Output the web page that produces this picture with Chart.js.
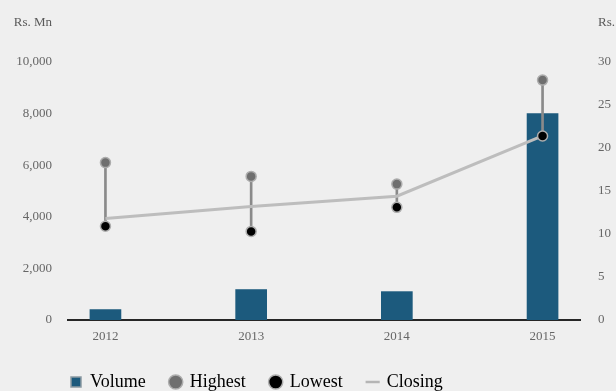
<!DOCTYPE html>
<html>
<head>
<meta charset="utf-8">
<script src="https://cdn.jsdelivr.net/npm/chart.js@4.4.1/dist/chart.umd.min.js"></script>
<style>
  html, body { margin: 0; padding: 0; background: #efefef; }
  #wrap { width: 616px; height: 391px; }
</style>
</head>
<body>
<div id="wrap"><canvas id="c" width="616" height="391"></canvas></div>
<script>
// Share trading summary: traded volume (Rs. Mn) and price range (Rs.)
const years   = [2012, 2013, 2014, 2015];
const volume  = [400, 1180, 1100, 8000];     // Rs. Mn
const highest = [18.3, 16.7, 15.8, 27.9];    // Rs.
const lowest  = [10.9, 10.3, 13.1, 21.4];    // Rs.
const closing = [11.8, 13.2, 14.4, 21.4];    // Rs.

const leftTicks  = [0, 2000, 4000, 6000, 8000, 10000];
const rightTicks = [0, 5, 10, 15, 20, 25, 30];
const legendNames = ['Volume', 'Highest', 'Lowest', 'Closing'];

const FONT = "'Liberation Serif', 'Times New Roman', serif";
const BLUE = '#1c5a7d';

const pts = arr => years.map((y, i) => ({ x: y, y: arr[i] }));
const ranges = years.map((y, i) => ({ x: y, y: [lowest[i], highest[i]] }));
const withCommas = v => String(v).replace(/\B(?=(\d{3})+(?!\d))/g, ',');

// Unit captions above each value axis; legend row starts under the plot
const chartDecor = {
  id: 'chartDecor',
  afterLayout(chart) {
    if (chart.legend) chart.legend.left = 46;
  },
  afterDraw(chart) {
    const { ctx, scales } = chart;
    ctx.save();
    ctx.font = '13px ' + FONT;
    ctx.fillStyle = '#5a5a5a';
    ctx.textBaseline = 'middle';
    ctx.textAlign = 'right';
    ctx.fillText('Rs. Mn', scales.y.right - 16, 23);
    ctx.textAlign = 'left';
    ctx.fillText('Rs.', scales.y1.left + 18, 23);
    ctx.restore();
  }
};

new Chart(document.getElementById('c'), {
  data: {
    datasets: [
      {
        type: 'bar', label: legendNames[0], data: pts(volume), yAxisID: 'y',
        backgroundColor: BLUE, barThickness: 31, grouped: false, order: 5
      },
      {
        type: 'bar', label: 'range', data: ranges, yAxisID: 'y1',
        backgroundColor: '#8a8a8a', barThickness: 2, grouped: false, order: 4
      },
      {
        type: 'line', label: legendNames[3], data: pts(closing), yAxisID: 'y1',
        borderColor: '#bdbdbd', borderWidth: 3, pointRadius: 0, tension: 0, order: 3
      },
      {
        type: 'line', label: legendNames[1], data: pts(highest), yAxisID: 'y1',
        showLine: false, pointRadius: 5, pointHoverRadius: 5,
        pointBackgroundColor: '#6f6f6f', pointBorderColor: '#adadad', pointBorderWidth: 1.5, order: 2
      },
      {
        type: 'line', label: legendNames[2], data: pts(lowest), yAxisID: 'y1',
        showLine: false, pointRadius: 5, pointHoverRadius: 5,
        pointBackgroundColor: '#000000', pointBorderColor: '#adadad', pointBorderWidth: 1.5, order: 1
      }
    ]
  },
  options: {
    responsive: false,
    animation: false,
    events: [],
    layout: { padding: { top: 62, left: 8, right: 0, bottom: 0 } },
    scales: {
      x: {
        type: 'linear',
        offset: false,
        min: 2011.743, max: 2015.257,
        z: 1,
        grid: { display: false, drawTicks: false },
        border: { display: true, color: '#262626', width: 2 },
        ticks: {
          stepSize: 1, includeBounds: false, padding: 9,
          color: '#666', font: { family: FONT, size: 13 },
          callback: v => String(v)
        },
        afterFit: s => { s.height = 28; }
      },
      y: {
        position: 'left', min: 0, max: 10000,
        grid: { display: false, drawTicks: false },
        border: { display: false },
        afterBuildTicks: s => { s.ticks = leftTicks.map(v => ({ value: v })); },
        ticks: {
          padding: 16, color: '#666', font: { family: FONT, size: 13 },
          callback: v => withCommas(v)
        },
        afterFit: s => { s.width = 60; }
      },
      y1: {
        position: 'right', min: 0, max: 30,
        grid: { display: false, drawTicks: false },
        border: { display: false },
        afterBuildTicks: s => { s.ticks = rightTicks.map(v => ({ value: v })); },
        ticks: {
          padding: 18, color: '#666', font: { family: FONT, size: 13 },
          callback: v => String(v)
        },
        afterFit: s => { s.width = 36; }
      }
    },
    plugins: {
      tooltip: { enabled: false },
      legend: {
        position: 'bottom',
        align: 'start',
        maxHeight: 43,
        labels: {
          usePointStyle: true,
          boxWidth: 10, boxHeight: 10,
          padding: 25,
          color: '#333',
          font: { family: FONT, size: 18 },
          generateLabels: () => [
            { text: legendNames[0], fillStyle: BLUE, strokeStyle: '#8c9aa3', lineWidth: 1.5, pointStyle: 'rect', hidden: false, datasetIndex: 0 },
            { text: legendNames[1], fillStyle: '#6f6f6f', strokeStyle: '#adadad', lineWidth: 1.5, pointStyle: 'circle', hidden: false, datasetIndex: 3 },
            { text: legendNames[2], fillStyle: '#000000', strokeStyle: '#adadad', lineWidth: 1.5, pointStyle: 'circle', hidden: false, datasetIndex: 4 },
            { text: legendNames[3], fillStyle: '#bdbdbd', strokeStyle: '#b5b5b5', lineWidth: 2.5, pointStyle: 'line', hidden: false, datasetIndex: 2 }
          ]
        }
      }
    }
  },
  plugins: [chartDecor]
});
</script>
</body>
</html>
